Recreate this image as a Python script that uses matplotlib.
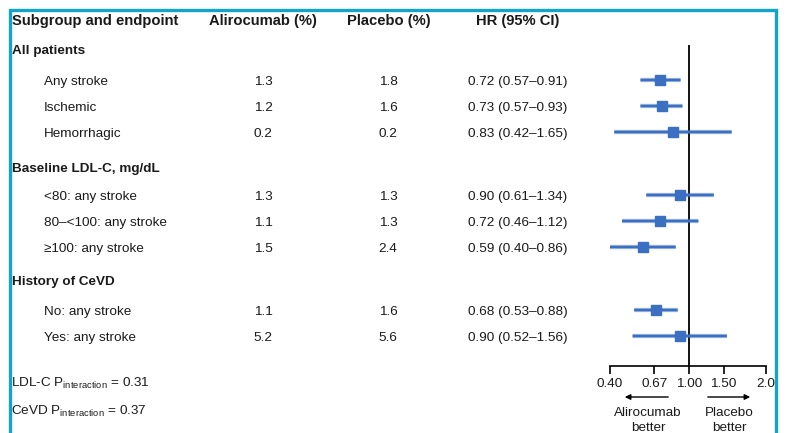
import numpy as np
import matplotlib
matplotlib.use('Agg')
import matplotlib.pyplot as plt

plt.rcParams['font.family'] = ['Liberation Sans', 'DejaVu Sans']
plt.rcParams['mathtext.fontset'] = 'custom'
plt.rcParams['mathtext.rm'] = 'Liberation Sans'

# ---- table content ---------------------------------------------------------
groups = ['All patients', 'Baseline LDL-C, mg/dL', 'History of CeVD']
labels = ['Any stroke', 'Ischemic', 'Hemorrhagic',
          '<80: any stroke', '80\u2013<100: any stroke', '\u2265100: any stroke',
          'No: any stroke', 'Yes: any stroke']
aliro = ['1.3', '1.2', '0.2', '1.3', '1.1', '1.5', '1.1', '5.2']
placebo = ['1.8', '1.6', '0.2', '1.3', '1.3', '2.4', '1.6', '5.6']
hr = [0.72, 0.73, 0.83, 0.90, 0.72, 0.59, 0.68, 0.90]
lo = [0.57, 0.57, 0.42, 0.61, 0.46, 0.40, 0.53, 0.52]
hi = [0.91, 0.93, 1.65, 1.34, 1.12, 0.86, 0.88, 1.56]
p_notes = ['LDL-C P$_{\\mathregular{interaction}}$ = 0.31',
           'CeVD P$_{\\mathregular{interaction}}$ = 0.37']
tick_vals = [0.40, 0.67, 1.00, 1.50, 2.46]
tick_labels = ['0.40', '0.67', '1.00', '1.50', '2.0']

# row layout (pixel rows of the 786x433 canvas)
group_y = [49, 167, 280]
row_y = [80, 106, 132, 195, 221, 247, 310, 336]
base = 4.6  # baseline sits this far below a row centre

W, H = 786, 433
fig = plt.figure(figsize=(W / 100, H / 100), dpi=100)
ax = fig.add_axes([0, 0, 1, 1])
ax.set_xlim(0, W)
ax.set_ylim(H, 0)
ax.axis('off')

txt = '#1a1a1a'
fs = 9.7
hfs = 10.6
blue = '#3a6fc2'
frame = '#12a4cc'


def put(x, y, s, **kw):
    kw.setdefault('fontsize', fs)
    ax.text(x, y + base, s, va='baseline', color=txt, **kw)


# frame
ax.plot([10, 10, 775.5, 775.5], [H + 5, 9.5, 9.5, H + 5], color=frame, lw=2.4,
        solid_joinstyle='miter', clip_on=False)

# header
ax.text(12, 25, 'Subgroup and endpoint', fontsize=hfs, fontweight='bold', va='baseline', color=txt)
ax.text(263, 25, 'Alirocumab (%)', fontsize=hfs, fontweight='bold', va='baseline', ha='center', color=txt)
ax.text(389, 25, 'Placebo (%)', fontsize=hfs, fontweight='bold', va='baseline', ha='center', color=txt)
ax.text(518, 25, 'HR (95% CI)', fontsize=hfs, fontweight='bold', va='baseline', ha='center', color=txt)

for g, y in zip(groups, group_y):
    put(12, y, g, fontweight='bold')

for i, y in enumerate(row_y):
    put(44, y, labels[i])
    put(263, y, aliro[i], ha='center')
    put(388, y, placebo[i], ha='center')
    put(468, y, f'{hr[i]:.2f} ({lo[i]:.2f}\u2013{hi[i]:.2f})')

put(11, 382, p_notes[0])
put(11, 410, p_notes[1])

# forest panel, log scale, rows share the pixel y of the table
left, right, top, bottom = 610, 766, 45, 366
fax = fig.add_axes([left / W, 1 - bottom / H, (right - left) / W, (bottom - top) / H])
fax.set_xscale('log')
fax.set_xlim(tick_vals[0], tick_vals[-1])
fax.set_ylim(bottom, top)
fax.patch.set_alpha(0)
for s in ['top', 'left', 'right']:
    fax.spines[s].set_visible(False)
fax.spines['bottom'].set_linewidth(1.2)
fax.set_yticks([])
fax.set_xticks(tick_vals)
fax.set_xticklabels(tick_labels)
fax.xaxis.set_minor_locator(matplotlib.ticker.NullLocator())
fax.tick_params(axis='x', direction='out', length=5.5, width=1.2, labelsize=fs,
                pad=3, colors='black', labelcolor=txt)
fax.axvline(1.0, color='#111111', lw=1.4, zorder=1)

for i, y in enumerate(row_y):
    fax.plot([lo[i], hi[i]], [y, y], color=blue, lw=3.2, alpha=0.3,
             solid_capstyle='butt', snap=False, zorder=2)
    fax.plot([lo[i], hi[i]], [y, y], color=blue, lw=2, solid_capstyle='butt',
             snap=False, zorder=3)
    fax.plot(hr[i], y, marker='s', ms=7, color=blue, mec=blue, zorder=4)

# direction arrows
arrow = dict(arrowstyle='-|>', color='black', lw=1, mutation_scale=8)
ax.annotate('', xy=(622, 397), xytext=(671, 397), arrowprops=arrow)
ax.annotate('', xy=(753, 397), xytext=(705, 397), arrowprops=arrow)
put(648, 411, 'Alirocumab', ha='center')
put(648, 426, 'better', ha='center')
put(729, 411, 'Placebo', ha='center')
put(729, 426, 'better', ha='center')

fig.savefig('out.png', dpi=100)
